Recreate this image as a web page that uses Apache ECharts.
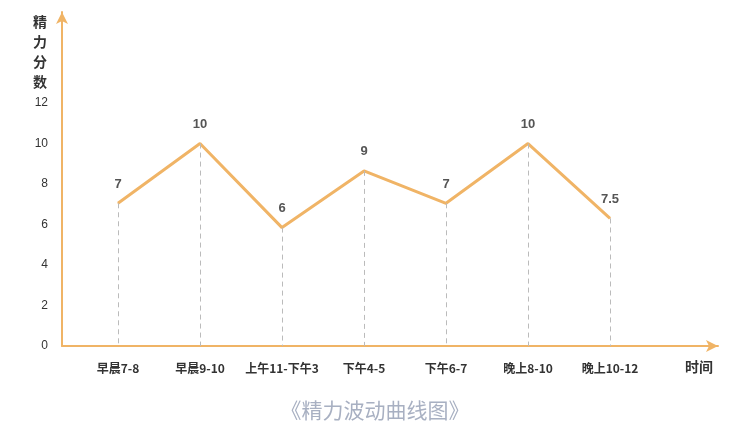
<!DOCTYPE html>
<html><head><meta charset="utf-8">
<script src="https://cdn.jsdelivr.net/npm/echarts@6/dist/echarts.min.js"></script>
<style>html,body{margin:0;padding:0;background:#fff}#c{width:750px;height:446px}</style>
</head><body><div id="c"></div>
<script>
const categories = ['早晨7-8','早晨9-10','上午11-下午3','下午4-5','下午6-7','晚上8-10','晚上10-12'];
const values = [7.05, 10, 5.85, 8.65, 7.05, 10, 6.3];
const valueLabels = ['7','10','6','9','7','10','7.5'];
const yTicks = [0,2,4,6,8,10,12];

const orange = '#f0b466';
const pts = values.map((v,i)=>[i,v]);
const chart = echarts.init(document.getElementById('c'));
chart.setOption({
  animation:false,
  grid:{left:62,right:32,top:12,bottom:100},
  title:{text:'《精力波动曲线图》',left:'center',top:395,textStyle:{color:'#a8b0c2',fontSize:21,fontWeight:'normal',fontFamily:'Noto Sans CJK SC'}},
  graphic:[{type:'text',left:33,top:12,style:{text:'精\n力\n分\n数',fill:'#333',font:'bold 14px "Noto Sans CJK SC"',lineHeight:20}},
           {type:'text',left:685,top:360,style:{text:'时间',fill:'#333',font:'bold 14px "Noto Sans CJK SC"'}}],
  xAxis:{type:'value',min:-0.683,max:7.317,
    axisLine:{onZero:false,lineStyle:{color:orange,width:2},symbol:['none','arrow'],symbolSize:[9,12]},
    axisTick:{show:false},splitLine:{show:false},
    axisLabel:{customValues:categories.map((c,i)=>i),formatter:v=>categories[Math.round(v)]||'',color:'#333',fontSize:12,fontWeight:'bold',margin:16,fontFamily:'Noto Sans CJK SC'}},
  yAxis:{type:'value',min:0,max:16.5,
    axisLine:{show:true,onZero:false,lineStyle:{color:orange,width:2},symbol:['none','arrow'],symbolSize:[9,12]},
    axisTick:{show:false},splitLine:{show:false},
    axisLabel:{customValues:yTicks,color:'#333',fontSize:12,margin:14}},
  series:[{type:'line',data:pts,symbol:'circle',symbolSize:1,showSymbol:true,itemStyle:{color:orange},lineStyle:{color:orange,width:3},
    label:{show:true,position:'top',distance:12,formatter:p=>valueLabels[p.dataIndex],color:'#555',fontSize:13,fontWeight:'bold'},
    markLine:{symbol:'none',silent:true,label:{show:false},lineStyle:{color:'#bbb',type:[5,4],width:1},
      data:pts.map(p=>[{coord:[p[0],p[1]]},{coord:[p[0],0]}])}}]
});
</script></body></html>
